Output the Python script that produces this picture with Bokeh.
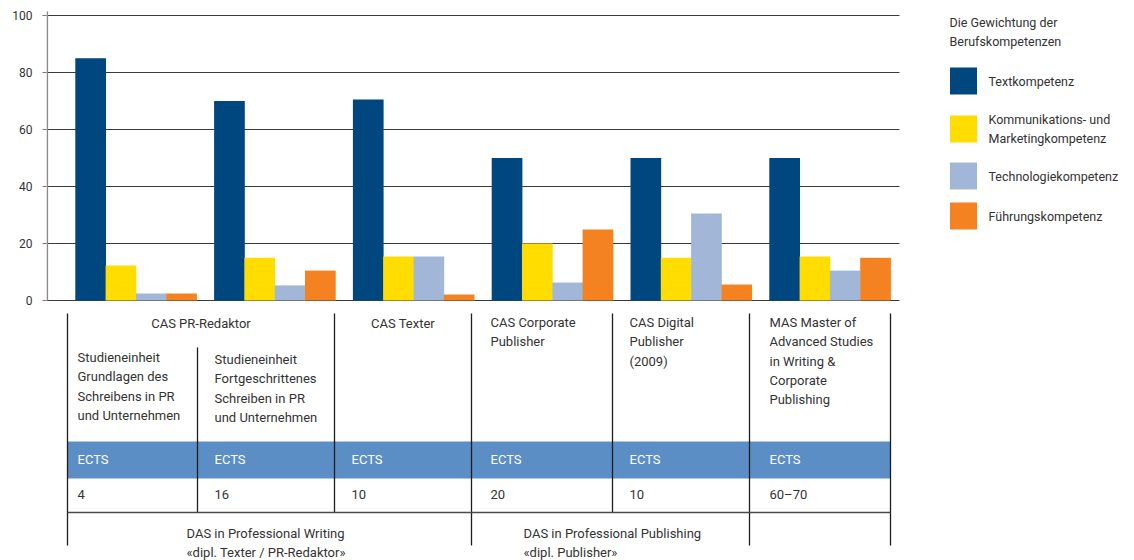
from bokeh.plotting import figure
from bokeh.models import Range1d, FixedTicker
from bokeh.core.properties import value
from bokeh.embed import file_html
from bokeh.resources import INLINE

# ---------------- data ----------------
groups = ["Grundlagen des Schreibens", "Fortgeschrittenes Schreiben", "CAS Texter",
          "CAS Corporate Publisher", "CAS Digital Publisher", "MAS"]
series_names = ["Textkompetenz", "Kommunikations- und\nMarketingkompetenz",
                "Technologiekompetenz", "Führungskompetenz"]
text_komp = [85, 70, 70.5, 50, 50, 50]
komm_komp = [12.3, 15, 15.4, 20, 15, 15.4]
tech_komp = [2.5, 5.3, 15.4, 6.3, 30.5, 10.5]
fuehr_komp = [2.5, 10.5, 2.1, 24.9, 5.6, 15]
y_ticks = [0, 20, 40, 60, 80, 100]
legend_title = "Die Gewichtung der\nBerufskompetenzen"

programs_centered = ["CAS PR-Redaktor", "CAS Texter"]
programs_left = ["CAS Corporate\nPublisher", "CAS Digital\nPublisher\n(2009)",
                 "MAS Master of\nAdvanced Studies\nin Writing &\nCorporate\nPublishing"]
study_units = ["Studieneinheit\nGrundlagen des\nSchreibens in PR\nund Unternehmen",
               "Studieneinheit\nFortgeschrittenes\nSchreiben in PR\nund Unternehmen"]
ects_label = "ECTS"
ects_values = ["4", "16", "10", "20", "10", "60–70"]
das_labels = ["DAS in Professional Writing\n«dipl. Texter / PR-Redaktor»",
              "DAS in Professional Publishing\n«dipl. Publisher»"]

colors = ["#00467F", "#FFDD00", "#A2B7D8", "#F48220"]
BAND = "#5B8EC4"
INK = "#333333"
FONT = value("Roboto")

# ---------------- layout helpers (picture pixels) ----------------
W, H = 1134, 560

def Y(py):
    return (300.0 - py) / 2.85

G0, PITCH, BW = 75.0, 138.8, 30.3
LINE_H = 19.3

p = figure(width=W, height=H, x_range=Range1d(46, W),
           y_range=Range1d(Y(H), Y(0)), output_backend="svg",
           toolbar_location=None, x_axis_location=None,
           min_border_left=46, min_border_right=0, min_border_top=0, min_border_bottom=0)
p.grid.visible = False
p.outline_line_color = None
p.background_fill_color = "white"

ax = p.yaxis[0]
ax.ticker = FixedTicker(ticks=y_ticks)
ax.axis_line_color = None
ax.major_tick_out = 4
ax.major_tick_in = 0
ax.minor_tick_line_color = None
ax.major_tick_line_color = "#7a7a7a"
ax.major_label_standoff = 10
ax.major_label_text_font = "Roboto"
ax.major_label_text_font_size = "12px"
ax.major_label_text_color = INK

# gridlines
p.segment(x0=[46] * len(y_ticks), x1=[899] * len(y_ticks), y0=y_ticks, y1=y_ticks,
          line_color="#3a3a3a", line_width=1.1)
# y axis line
p.segment(x0=[46.8], x1=[46.8], y0=[0], y1=[Y(11)], line_color="#8a8a8a", line_width=1.6)

# bars
all_series = [text_komp, komm_komp, tech_komp, fuehr_komp]
for k, (vals, c) in enumerate(zip(all_series, colors)):
    xs = [G0 + g * PITCH + (k + 0.5) * BW for g in range(len(groups))]
    p.vbar(x=xs, top=vals, bottom=0, width=BW + 0.4, fill_color=c, line_color=None)

# ---------------- legend ----------------
def add_text(x, y_first, s, align="left", size="13px", color=INK, lh=LINE_H):
    lines = s.split("\n")
    p.text(x=[x] * len(lines), y=[Y(y_first + i * lh) for i in range(len(lines))],
           text=lines, text_font=FONT, text_font_size=size, text_color=color,
           text_align=align, text_baseline="middle")

add_text(949, 22, legend_title, size="12.5px", lh=19)
sw_y = [80.5, 128.5, 175.5, 215.5]
lab_y = [80.5, 119, 175.5, 215.5]
p.rect(x=[963] * 4, y=[Y(v) for v in sw_y], width=27, height=27 / 2.85,
       fill_color=colors, line_color=None)
for name, ly in zip(series_names, lab_y):
    add_text(988, ly, name, size="12.5px", lh=18.7)

# ---------------- table ----------------
TOP, ROWEND, BOTTOM = 313, 512, 545
# ECTS band
p.quad(left=[67], right=[890], top=[Y(441)], bottom=[Y(478)], fill_color=BAND, line_color=None)
# vertical lines
vx0 = [67, 197, 334, 471, 612, 749, 890]
vy0 = [TOP, 347, TOP, TOP, TOP, TOP, TOP]
vy1 = [BOTTOM, ROWEND, ROWEND, BOTTOM, ROWEND, BOTTOM, BOTTOM]
p.segment(x0=vx0, x1=vx0, y0=[Y(v) for v in vy0], y1=[Y(v) for v in vy1],
          line_color="#1e1e1e", line_width=1.3)
# horizontal line
p.segment(x0=[67], x1=[890], y0=[Y(ROWEND)], y1=[Y(ROWEND)], line_color="#4a4a4a", line_width=1.3)

text_left = [77, 214, 351, 490, 629, 769]

add_text((67 + 334) / 2, 322.5, programs_centered[0], align="center")
add_text((334 + 471) / 2, 322.5, programs_centered[1], align="center")
for s, x in zip(programs_left, text_left[3:]):
    add_text(x, 322, s)
add_text(text_left[0], 357, study_units[0])
add_text(text_left[1], 359, study_units[1])

p.text(x=text_left, y=[Y(459)] * len(text_left), text=[ects_label] * len(text_left),
       text_font=FONT, text_font_size="13px", text_color="white",
       text_align="left", text_baseline="middle")
p.text(x=text_left, y=[Y(494)] * len(text_left), text=ects_values,
       text_font=FONT, text_font_size="13px", text_color=INK,
       text_align="left", text_baseline="middle")

add_text(186, 533, das_labels[0], lh=18.5)
add_text(523, 533, das_labels[1], lh=18.5)

open("out.html", "w").write(file_html(p, INLINE))
